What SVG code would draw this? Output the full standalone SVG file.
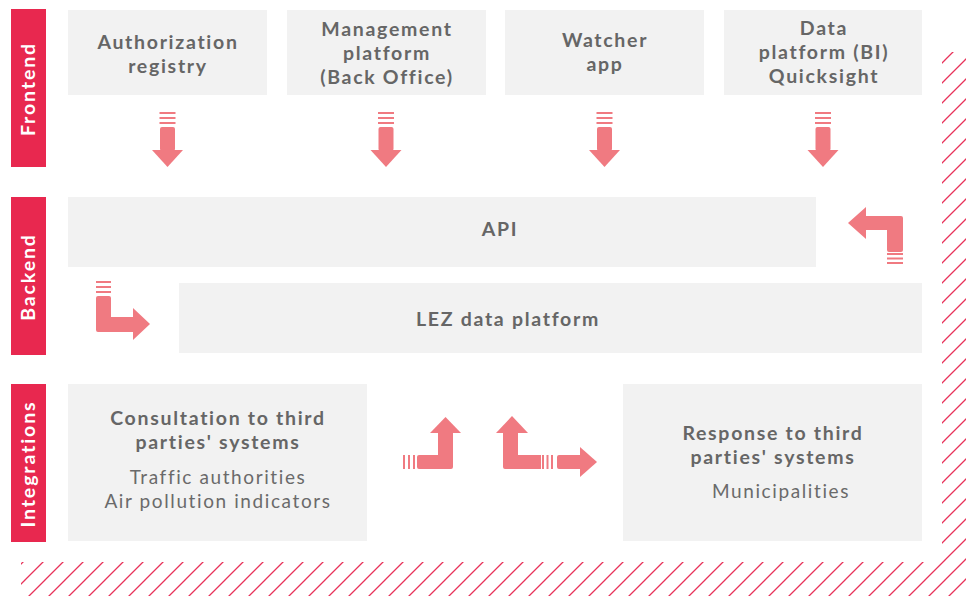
<svg xmlns="http://www.w3.org/2000/svg" width="966" height="596" viewBox="0 0 966 596">
<style>
.box{fill:#f2f2f2}
.bar{fill:#e8284f}
.side{font-family:"Lato","Open Sans",sans-serif;font-weight:700;font-size:19.5px;letter-spacing:1.9px;fill:#ffffff;text-anchor:middle}
.t{font-family:"Lato","Open Sans",sans-serif;font-weight:700;font-size:19.5px;letter-spacing:1.7px;fill:#666666;text-anchor:middle}
.r{font-family:"Lato","Open Sans",sans-serif;font-weight:400;font-size:19px;letter-spacing:1.6px;fill:#6a6a6a;text-anchor:middle}
.ar{fill:#f07a81}
</style>
<defs>
<pattern id="hatch" patternUnits="userSpaceOnUse" width="20" height="20" x="5" y="0">
<path d="M-2,22 L22,-2 M-2,2 L2,-2 M18,22 L22,18" stroke="#e8325a" stroke-width="1.3"/>
</pattern>
<g id="down">
<rect x="-8" y="112" width="16" height="2"/>
<rect x="-8" y="117" width="16" height="2"/>
<rect x="-8" y="122" width="16" height="2"/>
<rect x="-7.5" y="127" width="15" height="24" rx="2"/>
<polygon points="-15.5,150 15.5,150 0,167"/>
</g>
</defs>

<g id="hatching">
<rect x="942" y="52" width="24" height="510" fill="url(#hatch)"/>
<rect x="21" y="562" width="945" height="34" fill="url(#hatch)"/>
</g>

<g id="lane-frontend">
<rect class="bar" x="11" y="9" width="35" height="158"/>
<text class="side" transform="translate(35,89) rotate(-90)">Frontend</text>
</g>
<g id="lane-backend">
<rect class="bar" x="11" y="197" width="35" height="158"/>
<text class="side" transform="translate(35,277) rotate(-90)">Backend</text>
</g>
<g id="lane-integrations">
<rect class="bar" x="11" y="384" width="35" height="158"/>
<text class="side" transform="translate(35,464) rotate(-90)">Integrations</text>
</g>

<g id="auth-registry">
<rect class="box" x="68" y="10" width="199" height="85"/>
<text class="t"><tspan x="168" y="49">Authorization</tspan><tspan x="168" y="73">registry</tspan></text>
</g>
<g id="management-platform">
<rect class="box" x="287" y="10" width="199" height="85"/>
<text class="t"><tspan x="387" y="36">Management</tspan><tspan x="387" y="60">platform</tspan><tspan x="387" y="84">(Back Office)</tspan></text>
</g>
<g id="watcher-app">
<rect class="box" x="505" y="10" width="199" height="85"/>
<text class="t"><tspan x="605" y="47">Watcher</tspan><tspan x="605" y="71">app</tspan></text>
</g>
<g id="data-platform">
<rect class="box" x="724" y="10" width="198" height="85"/>
<text class="t"><tspan x="824" y="35">Data</tspan><tspan x="824" y="59">platform (BI)</tspan><tspan x="824" y="83">Quicksight</tspan></text>
</g>
<g id="api">
<rect class="box" x="68" y="197" width="748" height="70"/>
<text class="t" x="500" y="236">API</text>
</g>
<g id="lez-data-platform">
<rect class="box" x="179" y="283" width="743" height="70"/>
<text class="t" x="508" y="326">LEZ data platform</text>
</g>
<g id="consultation">
<rect class="box" x="68" y="384" width="299" height="157"/>
<text class="t"><tspan x="218" y="425">Consultation to third</tspan><tspan x="218" y="449">parties' systems</tspan></text>
<text class="r"><tspan x="218" y="484">Traffic authorities</tspan><tspan x="218" y="508">Air pollution indicators</tspan></text>
</g>
<g id="response">
<rect class="box" x="623" y="384" width="299" height="157"/>
<text class="t"><tspan x="773" y="440">Response to third</tspan><tspan x="773" y="464">parties' systems</tspan></text>
<text class="r" x="781" y="498">Municipalities</text>
</g>

<g id="connectors" class="ar">
<use href="#down" x="167.5"/>
<use href="#down" x="386"/>
<use href="#down" x="604.5"/>
<use href="#down" x="823"/>
<g>
<rect x="887" y="253" width="16" height="2"/>
<rect x="887" y="257.5" width="16" height="2"/>
<rect x="887" y="262" width="16" height="2"/>
<path d="M866,216 H901 Q903,216 903,218 V250 Q903,252 901,252 H889 Q887,252 887,250 V230 H866 Z"/>
<polygon points="848,223 866,207 866,239"/>
</g>
<g>
<rect x="96" y="281" width="15" height="2"/>
<rect x="96" y="286" width="15" height="2"/>
<rect x="96" y="291" width="15" height="2"/>
<path d="M98,296 H109 Q111,296 111,298 V317 H134 V332 H98 Q96,332 96,330 V298 Q96,296 98,296 Z"/>
<polygon points="133,308 150,324 133,340"/>
</g>
<g>
<rect x="403" y="455" width="2" height="14"/>
<rect x="408" y="455" width="2" height="14"/>
<rect x="413" y="455" width="2" height="14"/>
<path d="M419,455 H438 V432 H453 V467 Q453,469 451,469 H419 Q417,469 417,467 V457 Q417,455 419,455 Z"/>
<polygon points="430,433 461,433 445.5,417"/>
</g>
<g>
<path d="M503,432 H518 V455 H541 V469 H505 Q503,469 503,467 Z"/>
<polygon points="496,433 528,433 512,416"/>
<rect x="542" y="455" width="2" height="14"/>
<rect x="546.5" y="455" width="2" height="14"/>
<rect x="551" y="455" width="2" height="14"/>
<path d="M557,455 H581 V469 H559 Q557,469 557,467 V457 Q557,455 559,455 Z"/>
<polygon points="580,447 597,462 580,477"/>
</g>
</g>
</svg>
